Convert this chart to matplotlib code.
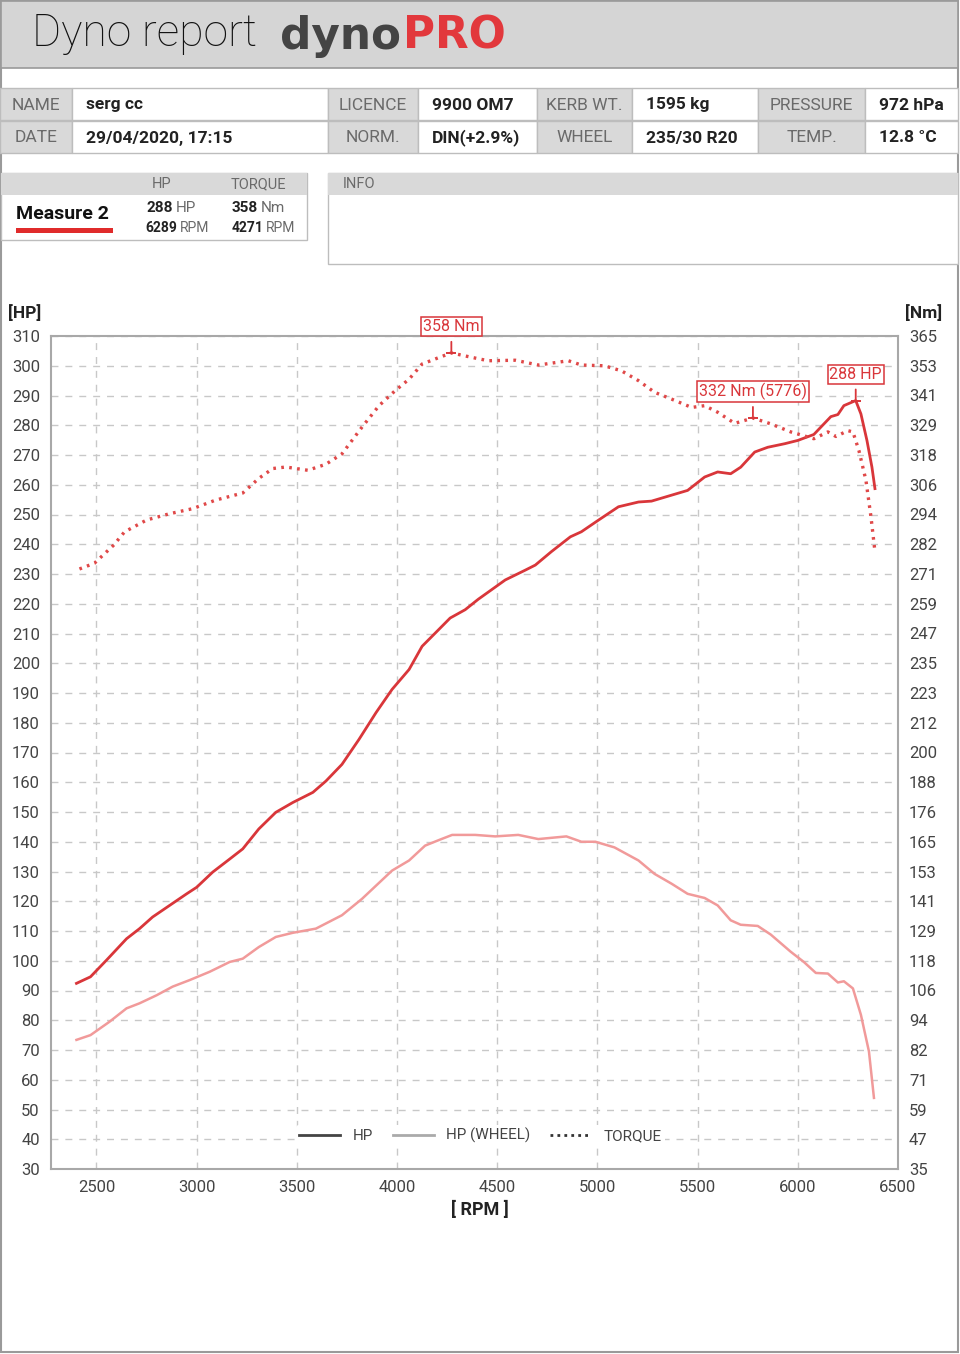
import numpy as np
import matplotlib
matplotlib.use("Agg")
import matplotlib.pyplot as plt
from matplotlib.patches import Rectangle
from matplotlib.lines import Line2D

plt.rcParams['font.family'] = ['Roboto', 'DejaVu Sans']

# ---- data ----
hp_rpm = [2400, 2470, 2550, 2650, 2715, 2780, 2865, 2950, 3000, 3080, 3165, 3230, 3310, 3395,
          3480, 3580, 3645, 3725, 3810, 3895, 3975, 4060, 4125, 4190, 4265, 4340, 4405, 4540,
          4640, 4690, 4770, 4865, 4920, 5005, 5105, 5205, 5270, 5370, 5450, 5535, 5600, 5665,
          5715, 5785, 5850, 5935, 6000, 6080, 6165, 6200, 6230, 6289, 6315, 6345, 6370, 6385]
hp_vals = [92.4, 94.6, 100.2, 107.4, 110.8, 114.7, 118.6, 122.5, 124.7, 129.8, 134.2, 137.6, 144.3, 149.9,
           153.2, 156.6, 160.4, 166.0, 174.4, 183.4, 191.2, 197.9, 205.7, 210.1, 215.2, 218.0, 221.5, 228.0,
           231.3, 233.0, 237.5, 242.5, 244.2, 248.1, 252.6, 254.2, 254.5, 256.5, 258.1, 262.6, 264.3, 263.7,
           265.9, 271.0, 272.6, 273.8, 274.9, 276.9, 282.9, 283.6, 286.6, 288.3, 283.8, 274.9, 265.9, 258.7]

wheel_rpm = [2400, 2470, 2565, 2650, 2715, 2800, 2880, 2965, 3065, 3165, 3230, 3310, 3395, 3480,
             3595, 3725, 3825, 3975, 4060, 4140, 4210, 4275, 4390, 4490, 4605, 4705, 4845, 4920,
             4990, 5085, 5205, 5285, 5370, 5450, 5535, 5600, 5665, 5715, 5800, 5865, 5965, 6030,
             6090, 6150, 6200, 6230, 6275, 6315, 6355, 6380]
wheel_vals = [73.4, 75.0, 79.5, 84.0, 85.7, 88.4, 91.3, 93.5, 96.3, 99.6, 100.7, 104.6, 108.0, 109.4,
              110.8, 115.3, 120.8, 130.3, 133.7, 138.7, 140.6, 142.3, 142.3, 141.8, 142.3, 140.9, 141.8, 140.0,
              140.0, 138.1, 133.7, 129.2, 125.9, 122.5, 121.1, 118.6, 113.6, 112.1, 111.7, 108.8, 103.0, 99.6,
              95.9, 95.7, 92.7, 93.1, 90.7, 81.8, 69.5, 53.9]

tq_rpm = [2415, 2490, 2585, 2640, 2750, 2865, 2980, 3095, 3230, 3310, 3380, 3445, 3555, 3645,
          3725, 3825, 3910, 3990, 4060, 4125, 4210, 4271, 4375, 4455, 4590, 4705, 4855, 4920,
          5035, 5120, 5205, 5285, 5370, 5470, 5535, 5600, 5685, 5776, 5865, 5965, 6050, 6080,
          6150, 6190, 6250, 6275, 6305, 6340, 6365, 6385]
tq_vals = [272.7, 275.0, 282.1, 287.4, 292.1, 294.6, 296.6, 300.0, 302.8, 308.6, 312.5, 313.1, 311.8, 314.2,
           318.3, 328.9, 337.4, 343.3, 347.9, 353.9, 356.5, 358.3, 356.5, 355.2, 355.4, 353.5, 355.2, 353.5,
           353.2, 351.2, 347.3, 342.7, 340.0, 336.7, 337.4, 334.8, 330.4, 332.5, 330.2, 327.0, 325.0, 324.3,
           327.0, 325.2, 327.5, 327.0, 319.6, 307.8, 293.4, 279.6]

hp_ticks = list(range(30, 320, 10))
nm_labels = ['35', '47', '59', '71', '82', '94', '106', '118', '129', '141', '153', '165', '176', '188',
             '200', '212', '223', '235', '247', '259', '271', '282', '294', '306', '318', '329', '341',
             '353', '365']
rpm_ticks = [2500, 3000, 3500, 4000, 4500, 5000, 5500, 6000, 6500]

info_labels = [['NAME', 'LICENCE', 'KERB WT.', 'PRESSURE'], ['DATE', 'NORM.', 'WHEEL', 'TEMP.']]
info_values = [['serg cc', '9900 OM7', '1595 kg', '972 hPa'],
               ['29/04/2020, 17:15', 'DIN(+2.9%)', '235/30 R20', '12.8 °C']]

RED = '#d9363a'
LIGHT = '#f19a9a'
GREY_TXT = '#6a6a6a'
DARK = '#222222'

W, H = 960, 1354
fig = plt.figure(figsize=(W / 100, H / 100), dpi=100)


def fx(x):
    return x / W


def fy(y):
    return 1 - y / H


def box(x0, y0, x1, y1, fc='white', ec='none', lw=1.0):
    fig.add_artist(Rectangle((fx(x0), fy(y1)), fx(x1) - fx(x0), fy(y0) - fy(y1),
                             transform=fig.transFigure, fc=fc, ec=ec, lw=lw, zorder=0))


def txt(x, y, s, **kw):
    kw.setdefault('va', 'center')
    return fig.text(fx(x), fy(y), s, **kw)


# page frame + header
box(1, 1, 958, 1352, fc='white', ec='#9a9a9a', lw=1.5)
box(1, 1, 958, 68, fc='#d5d5d5', ec='#9a9a9a', lw=1.2)
txt(32, 34, 'Dyno report', fontsize=32, color='#111111', fontweight='light')
t_dyno = txt(280, 36, 'dyno', fontsize=31.5, color='#444444', fontweight='bold', family='DejaVu Sans')
r = fig.canvas.get_renderer()
x_end = t_dyno.get_window_extent(r).x1
txt(x_end + 2, 36, 'PRO', fontsize=31.5, color='#e2383c', fontweight='bold', family='DejaVu Sans')

# info table
cols = [(0, 72, 328), (328, 418, 537), (537, 632, 758), (758, 865, 958)]
rows = [(88, 120), (121, 153)]
for i, (y0, y1) in enumerate(rows):
    for c, (a, b, e) in enumerate(cols):
        box(a, y0, b, y1, fc='#d9d9d9', ec='#bdbdbd')
        box(b, y0, e, y1, fc='white', ec='#bdbdbd')
        txt((a + b) / 2, (y0 + y1) / 2 + 1, info_labels[i][c], ha='center', fontsize=12.5, color=GREY_TXT)
        txt(b + 14, (y0 + y1) / 2 + 1, info_values[i][c], ha='left', fontsize=12.5, color=DARK,
            fontweight='bold')

# measure box
box(1, 173, 307, 240, fc='white', ec='#bdbdbd')
box(1, 173, 307, 195, fc='#d9d9d9', ec='none')
txt(162, 184, 'HP', ha='center', fontsize=10.5, color=GREY_TXT)
txt(258, 184, 'TORQUE', ha='center', fontsize=10.5, color=GREY_TXT)
txt(16, 214, 'Measure 2', ha='left', fontsize=14, color='#111111', fontweight='bold')
box(16, 228, 113, 233, fc='#e02b2b', ec='none')
for x, y, num, unit in [(173, 208, '288', 'HP'), (177, 228, '6289', 'RPM'),
                        (258, 208, '358', 'Nm'), (263, 228, '4271', 'RPM')]:
    fs = 11 if unit != 'RPM' else 10
    txt(x, y, num, ha='right', fontsize=fs, color=DARK, fontweight='bold')
    txt(x + 3, y, unit, ha='left', fontsize=fs, color=GREY_TXT)

# info box
box(328, 173, 958, 264, fc='white', ec='#bdbdbd')
box(328, 173, 958, 195, fc='#d9d9d9', ec='none')
txt(343, 184, 'INFO', ha='left', fontsize=10.5, color=GREY_TXT)

# ---- chart ----
ax = fig.add_axes([fx(51), fy(1169), fx(898) - fx(51), fy(336) - fy(1169)])
ax.set_xlim(2273, 6500)
ax.set_ylim(30, 310)
ax.set_yticks(hp_ticks)
ax.set_xticks(rpm_ticks)
ax.grid(True, color='#c8c8c8', linestyle=(0, (5, 5)), lw=1)
for s in ax.spines.values():
    s.set_color('#a8a8a8')
    s.set_linewidth(1.5)
ax.tick_params(length=0, labelsize=12, labelcolor='#444444', pad=8)

ax2 = ax.twinx()
ax2.set_ylim(35, 365)
ax2.set_yticks(np.linspace(35, 365, len(nm_labels)))
ax2.set_yticklabels(nm_labels)
ax2.tick_params(length=0, labelsize=12, labelcolor='#444444', pad=8)
for s in ax2.spines.values():
    s.set_visible(False)

ax.plot(wheel_rpm, wheel_vals, color=LIGHT, lw=1.8, zorder=3, solid_joinstyle='round')
ax.plot(hp_rpm, hp_vals, color=RED, lw=2.0, zorder=4, solid_joinstyle='round')
ax2.plot(tq_rpm, tq_vals, color='#e04848', lw=2.4, linestyle=(0, (0.8, 1.6)), zorder=4)

# peak markers: small "⊥" tick on the curve plus a boxed label
def peak(a, x, y, label, dy):
    a.annotate('', xy=(x, y), xytext=(0, 8), textcoords='offset points',
               arrowprops=dict(arrowstyle='-', color=RED, lw=1.3, shrinkA=0, shrinkB=0))
    a.plot([x], [y], marker='_', ms=7, mew=1.4, color=RED, zorder=5)
    a.annotate(label, xy=(x, y), xytext=(0, dy), textcoords='offset points', ha='center', va='center',
               fontsize=11.5, color=RED,
               bbox=dict(boxstyle='square,pad=0.12', fc='white', ec=RED, lw=1.1))

peak(ax2, 4271, 358.3, '358 Nm', 19)
peak(ax2, 5776, 332.5, '332 Nm (5776)', 19)
peak(ax, 6289, 288.3, '288 HP', 18.5)

handles = [Line2D([], [], color='#444444', lw=2),
           Line2D([], [], color='#aaaaaa', lw=2),
           Line2D([], [], color='#333333', lw=2, linestyle=(0, (1, 1.5)))]
leg = ax.legend(handles, ['HP', 'HP (WHEEL)', 'TORQUE'], loc='center', bbox_to_anchor=(0.507, 0.04),
                ncol=3, frameon=True, fontsize=11, handlelength=2.7, columnspacing=1.3,
                borderpad=0.2, handletextpad=0.8)
leg.get_frame().set_facecolor('white')
leg.get_frame().set_edgecolor('none')
leg.get_frame().set_alpha(1)
for t in leg.get_texts():
    t.set_color('#444444')

txt(8, 313, '[HP]', ha='left', fontsize=12.5, color=DARK, fontweight='bold')
txt(905, 313, '[Nm]', ha='left', fontsize=12.5, color=DARK, fontweight='bold')
txt(480, 1210, '[ RPM ]', ha='center', fontsize=13, color=DARK, fontweight='bold')

fig.savefig('out.png', dpi=100)
